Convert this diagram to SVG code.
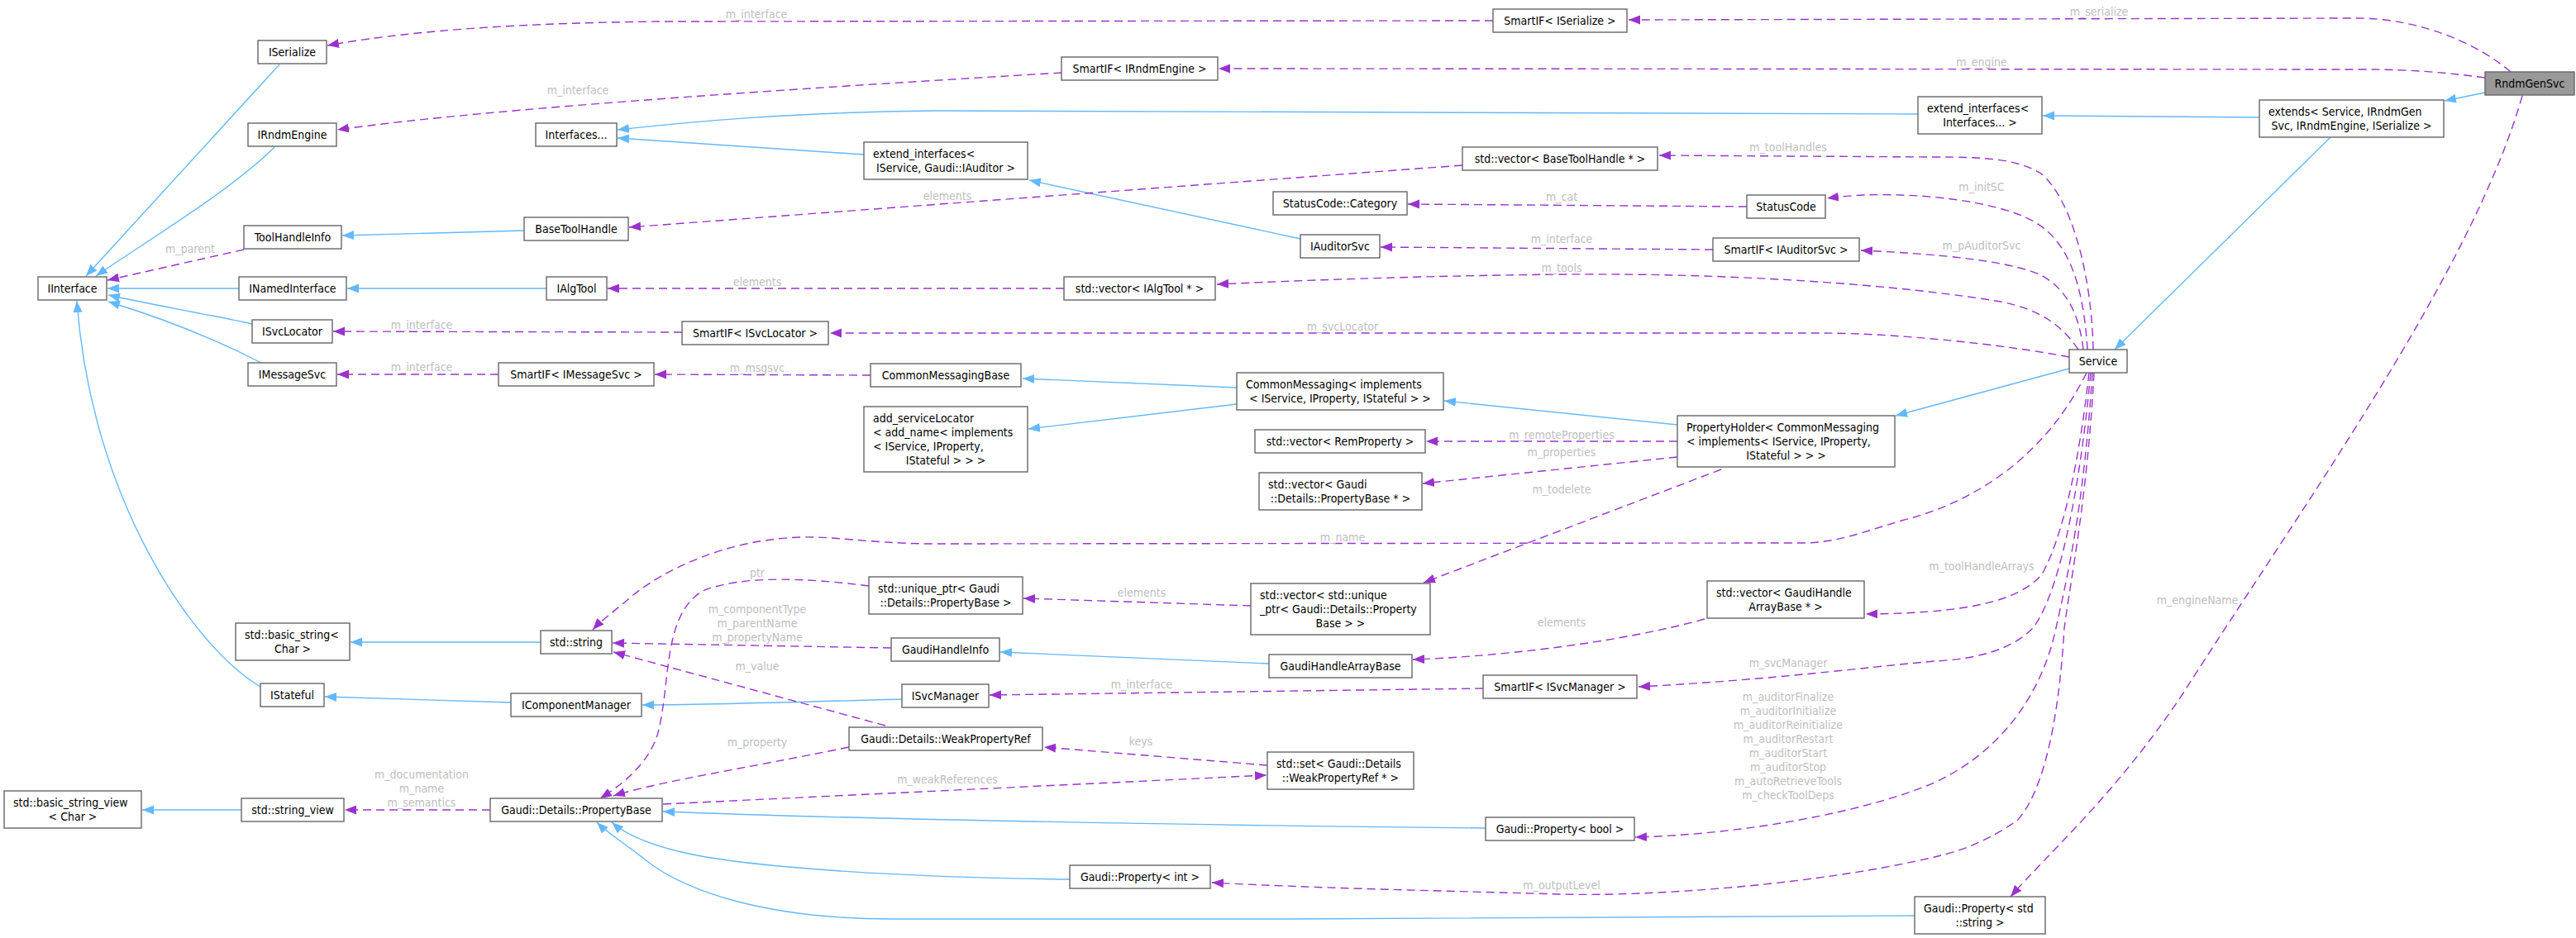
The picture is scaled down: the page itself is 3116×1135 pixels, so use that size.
<svg xmlns="http://www.w3.org/2000/svg" width="3116" height="1135" viewBox="0 0 3116 1135">
<style>
.n rect{fill:#ffffff;stroke:#666666;stroke-width:1.4}
.n text,.l{font-family:'DejaVu Sans Condensed','DejaVu Sans',sans-serif;font-stretch:condensed;font-size:14px}
.n text{fill:#000000}
.c{text-anchor:middle}
.l{fill:#BEBEBE;text-anchor:middle}
.i{fill:none;stroke:#63B8FF;stroke-width:1.4;marker-end:url(#ai)}
.u{fill:none;stroke:#9A32CD;stroke-width:1.4;stroke-dasharray:10,6;marker-end:url(#au)}
</style>
<defs>
<marker id="ai" markerUnits="userSpaceOnUse" markerWidth="16" markerHeight="12" refX="14" refY="6" orient="auto"><path d="M0,0.5 L14,6 L0,11.5 z" fill="#63B8FF" stroke="none"/></marker>
<marker id="au" markerUnits="userSpaceOnUse" markerWidth="16" markerHeight="12" refX="14" refY="6" orient="auto"><path d="M0,0.5 L14,6 L0,11.5 z" fill="#9A32CD" stroke="none"/></marker>
</defs>
<rect width="3116" height="1135" fill="#ffffff"/>
<g id="edges">
<path class="i" d="M338,78 L104,334"/>
<path class="i" d="M332,178 C280,230 180,290 116,334"/>
<path class="i" d="M289,349 L130,349"/>
<path class="i" d="M305,392 C250,380 180,368 131,357"/>
<path class="i" d="M316,439 C250,405 180,380 131,365"/>
<path class="i" d="M315,831 C230,780 110,600 93,364"/>
<path class="i" d="M661,349 L420,349"/>
<path class="i" d="M634,279 L414,285"/>
<path class="i" d="M2320,138 L1130,134 C950,136 830,148 747,157"/>
<path class="i" d="M1045,187 L747,167"/>
<path class="i" d="M2733,142 L2471,140"/>
<path class="i" d="M3006,112 L2957,122"/>
<path class="i" d="M2819,166 L2558,423"/>
<path class="i" d="M1573,289 L1245,218"/>
<path class="i" d="M1496,469 L1237,458"/>
<path class="i" d="M1496,489 L1244,519"/>
<path class="i" d="M2029,514 L1747,485"/>
<path class="i" d="M2503,446 L2293,503"/>
<path class="i" d="M654,777 L424,777"/>
<path class="i" d="M618,850 L393,843"/>
<path class="i" d="M1091,846 C950,850 850,853 777,853"/>
<path class="i" d="M1535,803 L1210,789"/>
<path class="i" d="M292,980 L172,980"/>
<path class="i" d="M1797,1002 C1400,998 1000,990 802,982"/>
<path class="i" d="M1294,1064 C1100,1062 900,1050 820,1030 C780,1020 755,1008 740,995"/>
<path class="i" d="M2316,1108 L1560,1112 L1080,1112 C930,1112 830,1080 780,1040 C755,1020 735,1008 722,995"/>

<path class="u" d="M3037,87 C3000,55 2930,22 2850,22 L1970,24"/>
<text class="l" x="2539" y="19">m_serialize</text>
<path class="u" d="M3006,94 C2960,88 2920,84 2860,84 L1474,83"/>
<text class="l" x="2397" y="80">m_engine</text>
<path class="u" d="M1806,25 L800,26 C600,28 480,40 396,55"/>
<text class="l" x="915" y="22">m_interface</text>
<path class="u" d="M1284,88 C1000,105 600,130 408,157"/>
<text class="l" x="699" y="114">m_interface</text>
<path class="u" d="M1769,200 L761,275"/>
<text class="l" x="1146" y="242">elements</text>
<path class="u" d="M2532,423 C2530,330 2505,240 2469,210 C2440,192 2400,190 2340,190 L2007,188"/>
<text class="l" x="2163" y="183">m_toolHandles</text>
<path class="u" d="M2113,250 L1703,247"/>
<text class="l" x="1889" y="243">m_cat</text>
<path class="u" d="M2525,423 C2520,340 2500,290 2460,268 C2420,245 2340,237 2300,236 C2260,235 2240,236 2210,240"/>
<text class="l" x="2397" y="231">m_initSC</text>
<path class="u" d="M2072,302 L1670,299"/>
<text class="l" x="1889" y="294">m_interface</text>
<path class="u" d="M2520,423 C2515,380 2500,350 2469,333 C2430,315 2340,307 2251,303"/>
<text class="l" x="2397" y="302">m_pAuditorSvc</text>
<path class="u" d="M2514,423 C2495,395 2470,375 2420,365 C2300,345 2100,330 1890,332 C1700,334 1560,340 1472,344"/>
<text class="l" x="1889" y="329">m_tools</text>
<path class="u" d="M295,302 L130,339"/>
<text class="l" x="230" y="306">m_parent</text>
<path class="u" d="M1287,349 L735,349"/>
<text class="l" x="916" y="346">elements</text>
<path class="u" d="M825,402 L403,401"/>
<text class="l" x="510" y="398">m_interface</text>
<path class="u" d="M2503,432 C2430,418 2300,403 2200,403 L1004,403"/>
<text class="l" x="1624" y="400">m_svcLocator</text>
<path class="u" d="M603,453 L408,453"/>
<text class="l" x="510" y="449">m_interface</text>
<path class="u" d="M1053,454 L792,453"/>
<text class="l" x="916" y="450">m_msgsvc</text>
<path class="u" d="M2029,534 L1725,534"/>
<text class="l" x="1889" y="531">m_remoteProperties</text>
<path class="u" d="M2029,553 L1721,585"/>
<text class="l" x="1889" y="552">m_properties</text>
<path class="u" d="M2082,568 L1722,705"/>
<text class="l" x="1889" y="597">m_todelete</text>
<path class="u" d="M2524,451 C2470,560 2380,610 2300,630 C2250,645 2220,657 2180,657 L1120,658 C1040,656 1010,649 970,650 C880,652 800,690 760,725 C745,738 728,750 717,762"/>
<text class="l" x="1624" y="655">m_name</text>
<path class="u" d="M1051,709 C980,700 900,695 850,715 C800,745 812,830 795,890 C785,920 760,945 726,966"/>
<text class="l" x="916" y="698">ptr</text>
<path class="u" d="M1513,733 L1238,724"/>
<text class="l" x="1381" y="722">elements</text>
<path class="u" d="M1078,784 L741,778"/>
<text class="l" x="916" y="742">m_componentType</text>
<text class="l" x="916" y="759">m_parentName</text>
<text class="l" x="916" y="776">m_propertyName</text>
<path class="u" d="M2527,451 C2515,560 2495,650 2470,695 C2440,730 2370,742 2257,743"/>
<text class="l" x="2397" y="690">m_toolHandleArrays</text>
<path class="u" d="M2062,749 C1950,780 1800,795 1709,798"/>
<text class="l" x="1889" y="758">elements</text>
<path class="u" d="M3051,116 C2990,330 2780,620 2640,840 C2560,960 2480,1030 2432,1085"/>
<text class="l" x="2658" y="731">m_engineName</text>
<path class="u" d="M1071,878 L742,789"/>
<text class="l" x="916" y="811">m_value</text>
<path class="u" d="M2529,451 C2515,600 2490,720 2459,760 C2430,790 2380,798 2340,800 C2250,808 2150,822 1982,831"/>
<text class="l" x="2163" y="807">m_svcManager</text>
<path class="u" d="M1794,833 L1197,841"/>
<text class="l" x="1381" y="833">m_interface</text>
<path class="u" d="M2531,451 C2520,620 2500,700 2487,760 C2470,840 2420,910 2340,947 C2250,985 2100,1010 1978,1013"/>
<text class="l" x="2163" y="848">m_auditorFinalize</text>
<text class="l" x="2163" y="865">m_auditorInitialize</text>
<text class="l" x="2163" y="882">m_auditorReinitialize</text>
<text class="l" x="2163" y="899">m_auditorRestart</text>
<text class="l" x="2163" y="916">m_auditorStart</text>
<text class="l" x="2163" y="933">m_auditorStop</text>
<text class="l" x="2163" y="950">m_autoRetrieveTools</text>
<text class="l" x="2163" y="967">m_checkToolDeps</text>
<path class="u" d="M1533,926 L1263,904"/>
<text class="l" x="1380" y="902">keys</text>
<path class="u" d="M1027,904 C900,930 800,945 742,963"/>
<text class="l" x="916" y="903">m_property</text>
<path class="u" d="M593,980 L417,980"/>
<text class="l" x="510" y="942">m_documentation</text>
<text class="l" x="510" y="959">m_name</text>
<text class="l" x="510" y="976">m_semantics</text>
<path class="u" d="M802,973 L1532,938"/>
<text class="l" x="1146" y="948">m_weakReferences</text>
<path class="u" d="M2533,451 C2525,600 2505,700 2497,760 C2490,880 2470,960 2440,993 C2400,1020 2370,1030 2340,1037 C2200,1070 2000,1085 1888,1082 C1750,1078 1600,1075 1466,1068"/>
<text class="l" x="1889" y="1076">m_outputLevel</text>
</g>

<g id="RndmGenSvc" class="n"><rect x="3006" y="87" width="108" height="28" style="fill:#999999"/><text class="c" x="3060" y="106">RndmGenSvc</text></g>
<g id="extends" class="n"><rect x="2733" y="121" width="223" height="45"/><text x="2744" y="140">extends&lt; Service, IRndmGen</text><text class="c" x="2844.5" y="157">Svc, IRndmEngine, ISerialize &gt;</text></g>
<g id="extend_interfaces_Interfaces" class="n"><rect x="2320" y="117" width="150" height="45"/><text x="2331" y="136">extend_interfaces&lt;</text><text class="c" x="2395" y="153">Interfaces... &gt;</text></g>
<g id="SmartIF_ISerialize" class="n"><rect x="1806" y="11" width="162" height="28"/><text class="c" x="1887" y="30">SmartIF&lt; ISerialize &gt;</text></g>
<g id="SmartIF_IRndmEngine" class="n"><rect x="1284" y="69" width="189" height="28"/><text class="c" x="1378.5" y="88">SmartIF&lt; IRndmEngine &gt;</text></g>
<g id="ISerialize" class="n"><rect x="312" y="49" width="83" height="28"/><text class="c" x="353.5" y="68">ISerialize</text></g>
<g id="IRndmEngine" class="n"><rect x="300" y="149" width="107" height="28"/><text class="c" x="353.5" y="168">IRndmEngine</text></g>
<g id="Interfaces" class="n"><rect x="648" y="149" width="98" height="28"/><text class="c" x="697" y="168">Interfaces...</text></g>
<g id="extend_interfaces_IService" class="n"><rect x="1045" y="172" width="198" height="45"/><text x="1056" y="191">extend_interfaces&lt;</text><text class="c" x="1144" y="208">IService, Gaudi::IAuditor &gt;</text></g>
<g id="vector_BaseToolHandle" class="n"><rect x="1769" y="178" width="236" height="28"/><text class="c" x="1887" y="197">std::vector&lt; BaseToolHandle * &gt;</text></g>
<g id="StatusCode_Category" class="n"><rect x="1540" y="232" width="162" height="28"/><text class="c" x="1621" y="251">StatusCode::Category</text></g>
<g id="StatusCode" class="n"><rect x="2113" y="236" width="95" height="28"/><text class="c" x="2160.5" y="255">StatusCode</text></g>
<g id="BaseToolHandle" class="n"><rect x="634" y="263" width="126" height="28"/><text class="c" x="697" y="282">BaseToolHandle</text></g>
<g id="ToolHandleInfo" class="n"><rect x="295" y="273" width="118" height="28"/><text class="c" x="354" y="292">ToolHandleInfo</text></g>
<g id="IAuditorSvc" class="n"><rect x="1573" y="284" width="96" height="28"/><text class="c" x="1621" y="303">IAuditorSvc</text></g>
<g id="SmartIF_IAuditorSvc" class="n"><rect x="2072" y="288" width="177" height="28"/><text class="c" x="2160.5" y="307">SmartIF&lt; IAuditorSvc &gt;</text></g>
<g id="IInterface" class="n"><rect x="46" y="335" width="83" height="28"/><text class="c" x="87.5" y="354">IInterface</text></g>
<g id="INamedInterface" class="n"><rect x="289" y="335" width="130" height="28"/><text class="c" x="354" y="354">INamedInterface</text></g>
<g id="IAlgTool" class="n"><rect x="661" y="335" width="73" height="28"/><text class="c" x="697.5" y="354">IAlgTool</text></g>
<g id="vector_IAlgTool" class="n"><rect x="1287" y="335" width="183" height="28"/><text class="c" x="1378.5" y="354">std::vector&lt; IAlgTool * &gt;</text></g>
<g id="ISvcLocator" class="n"><rect x="305" y="387" width="97" height="28"/><text class="c" x="353.5" y="406">ISvcLocator</text></g>
<g id="SmartIF_ISvcLocator" class="n"><rect x="825" y="389" width="177" height="28"/><text class="c" x="913.5" y="408">SmartIF&lt; ISvcLocator &gt;</text></g>
<g id="Service" class="n"><rect x="2503" y="423" width="70" height="28"/><text class="c" x="2538" y="442">Service</text></g>
<g id="IMessageSvc" class="n"><rect x="300" y="439" width="107" height="28"/><text class="c" x="353.5" y="458">IMessageSvc</text></g>
<g id="SmartIF_IMessageSvc" class="n"><rect x="603" y="439" width="188" height="28"/><text class="c" x="697" y="458">SmartIF&lt; IMessageSvc &gt;</text></g>
<g id="CommonMessagingBase" class="n"><rect x="1053" y="440" width="182" height="28"/><text class="c" x="1144" y="459">CommonMessagingBase</text></g>
<g id="CommonMessaging" class="n"><rect x="1496" y="451" width="250" height="45"/><text x="1507" y="470">CommonMessaging&lt; implements</text><text class="c" x="1621" y="487">&lt; IService, IProperty, IStateful &gt; &gt;</text></g>
<g id="add_serviceLocator" class="n"><rect x="1045" y="492" width="198" height="79"/><text x="1056" y="511">add_serviceLocator</text><text x="1056" y="528">&lt; add_name&lt; implements</text><text x="1056" y="545">&lt; IService, IProperty,</text><text class="c" x="1144" y="562">IStateful &gt; &gt; &gt;</text></g>
<g id="PropertyHolder" class="n"><rect x="2029" y="503" width="263" height="62"/><text x="2040" y="522">PropertyHolder&lt; CommonMessaging</text><text x="2040" y="539">&lt; implements&lt; IService, IProperty,</text><text class="c" x="2160.5" y="556">IStateful &gt; &gt; &gt;</text></g>
<g id="vector_RemProperty" class="n"><rect x="1518" y="520" width="206" height="28"/><text class="c" x="1621" y="539">std::vector&lt; RemProperty &gt;</text></g>
<g id="vector_PropertyBase" class="n"><rect x="1523" y="572" width="197" height="45"/><text x="1534" y="591">std::vector&lt; Gaudi</text><text class="c" x="1621.5" y="608">::Details::PropertyBase * &gt;</text></g>
<g id="unique_ptr_PropertyBase" class="n"><rect x="1051" y="698" width="186" height="45"/><text x="1062" y="717">std::unique_ptr&lt; Gaudi</text><text class="c" x="1144" y="734">::Details::PropertyBase &gt;</text></g>
<g id="vector_unique_ptr" class="n"><rect x="1513" y="706" width="217" height="62"/><text x="1524" y="725">std::vector&lt; std::unique</text><text x="1524" y="742">_ptr&lt; Gaudi::Details::Property</text><text class="c" x="1621.5" y="759">Base &gt; &gt;</text></g>
<g id="vector_GaudiHandleArrayBase" class="n"><rect x="2065" y="703" width="190" height="45"/><text x="2076" y="722">std::vector&lt; GaudiHandle</text><text class="c" x="2160" y="739">ArrayBase * &gt;</text></g>
<g id="basic_string" class="n"><rect x="285" y="754" width="138" height="45"/><text x="296" y="773">std::basic_string&lt;</text><text class="c" x="354" y="790">Char &gt;</text></g>
<g id="std_string" class="n"><rect x="654" y="763" width="86" height="28"/><text class="c" x="697" y="782">std::string</text></g>
<g id="GaudiHandleInfo" class="n"><rect x="1078" y="772" width="131" height="28"/><text class="c" x="1143.5" y="791">GaudiHandleInfo</text></g>
<g id="GaudiHandleArrayBase" class="n"><rect x="1535" y="792" width="173" height="28"/><text class="c" x="1621.5" y="811">GaudiHandleArrayBase</text></g>
<g id="SmartIF_ISvcManager" class="n"><rect x="1794" y="817" width="186" height="28"/><text class="c" x="1887" y="836">SmartIF&lt; ISvcManager &gt;</text></g>
<g id="IStateful" class="n"><rect x="315" y="827" width="77" height="28"/><text class="c" x="353.5" y="846">IStateful</text></g>
<g id="ISvcManager" class="n"><rect x="1091" y="828" width="105" height="28"/><text class="c" x="1143.5" y="847">ISvcManager</text></g>
<g id="IComponentManager" class="n"><rect x="618" y="839" width="158" height="28"/><text class="c" x="697" y="858">IComponentManager</text></g>
<g id="WeakPropertyRef" class="n"><rect x="1027" y="880" width="234" height="28"/><text class="c" x="1144" y="899">Gaudi::Details::WeakPropertyRef</text></g>
<g id="set_WeakPropertyRef" class="n"><rect x="1533" y="910" width="177" height="45"/><text x="1544" y="929">std::set&lt; Gaudi::Details</text><text class="c" x="1621.5" y="946">::WeakPropertyRef * &gt;</text></g>
<g id="basic_string_view" class="n"><rect x="5" y="957" width="166" height="45"/><text x="16" y="976">std::basic_string_view</text><text class="c" x="88" y="993">&lt; Char &gt;</text></g>
<g id="string_view" class="n"><rect x="292" y="966" width="124" height="28"/><text class="c" x="354" y="985">std::string_view</text></g>
<g id="PropertyBase" class="n"><rect x="593" y="966" width="208" height="28"/><text class="c" x="697" y="985">Gaudi::Details::PropertyBase</text></g>
<g id="Property_bool" class="n"><rect x="1797" y="989" width="180" height="28"/><text class="c" x="1887" y="1008">Gaudi::Property&lt; bool &gt;</text></g>
<g id="Property_int" class="n"><rect x="1294" y="1047" width="170" height="28"/><text class="c" x="1379" y="1066">Gaudi::Property&lt; int &gt;</text></g>
<g id="Property_string" class="n"><rect x="2316" y="1085" width="158" height="45"/><text x="2327" y="1104">Gaudi::Property&lt; std</text><text class="c" x="2395" y="1121">::string &gt;</text></g>
</svg>
